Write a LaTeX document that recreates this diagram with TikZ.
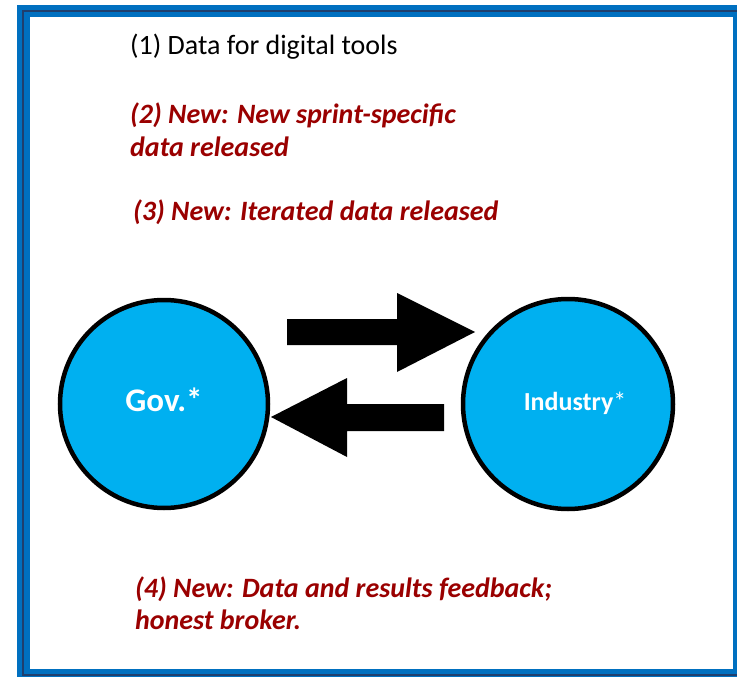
\documentclass[tikz,border=0pt]{standalone}
\usepackage{fontspec}
\setmainfont{Carlito}
\usepackage{xcolor}
\definecolor{framebl}{HTML}{0070C0}
\definecolor{framedk}{HTML}{1F3F6E}
\definecolor{partyblue}{HTML}{00B0F0}
\definecolor{newred}{HTML}{9A0000}

\begin{document}
\begin{tikzpicture}[x=1pt,y=-1pt,
	party/.style={draw=black,line width=4.5pt,fill=partyblue},
	partylbl/.style={text=white,inner sep=0pt,anchor=base},
	newtxt/.style={text=newred,font=\fontsize{28}{33}\selectfont\bfseries\itshape,inner sep=0pt,anchor=base west},
	blockarrow/.style={fill=black}]
	\useasboundingbox (0,0) rectangle (737,677);
	\clip (0,0) rectangle (737,677);
	% frame
	\fill[framebl] (17,5) rectangle (746,682);
	\draw[framedk,line width=2pt] (23,11) rectangle (739,675);
	\fill[white] (30,17) rectangle (733,669);

	\node[inner sep=0pt,anchor=base west,font=\fontsize{28}{33}\selectfont] (data) at (130,55) {(1) Data for digital tools};
	\node[newtxt] (sprint) at (130,124) {(2) New: New sprint-specific};
	\node[newtxt] (sprint2) at (130,157) {data released};
	\node[newtxt] (iter) at (133,220) {(3) New: Iterated data released};

	% parties
	\draw[party] (164,404) circle (104);
	\draw[party] (568,404) circle (105);
	\node[partylbl,font=\fontsize{33}{36}\selectfont\bfseries] (gov) at (164,411) {Gov.*};
	\node[partylbl,font=\fontsize{26}{30}\selectfont\bfseries] (ind) at (575,410) {Industry\textmd{*}};

	% exchange
	\fill[blockarrow] (287,319) -- (397,319) -- (397,293) -- (475,332) -- (397,372) -- (397,345) -- (287,345) -- cycle;
	\fill[blockarrow] (444,404) -- (347,404) -- (347,378) -- (271,417) -- (347,457) -- (347,431) -- (444,431) -- cycle;

	\node[newtxt] (feed) at (135,597) {(4) New: Data and results feedback;};
	\node[newtxt] (feed2) at (135,629) {honest broker.};
\end{tikzpicture}
\end{document}
